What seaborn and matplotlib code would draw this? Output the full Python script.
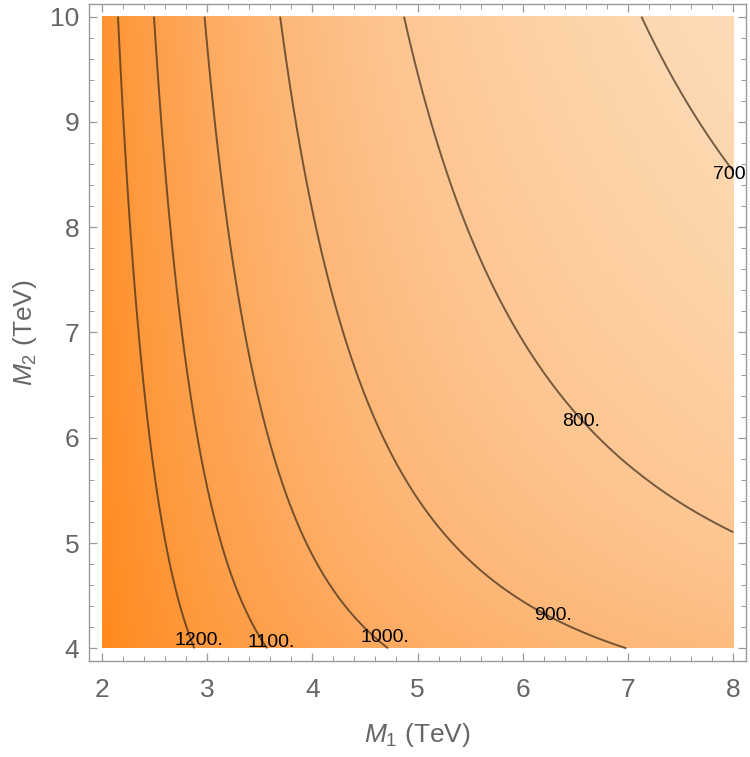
import numpy as np
import matplotlib
matplotlib.use("Agg")
import matplotlib.pyplot as plt
import seaborn as sns

# contour levels and where each line crosses the plot
levels = [700, 800, 900, 1000, 1100, 1200]
level_labels = ["700.", "800.", "900.", "1000.", "1100.", "1200."]

m2_rows = [10, 9, 8, 7, 6, 5.5, 5, 4.5, 4]
m1_1200 = [2.155, 2.203, 2.259, 2.345, 2.449, 2.535, 2.636, 2.74, 2.914]
m1_1100 = [2.503, 2.567, 2.646, 2.772, 2.914, 2.994, 3.105, 3.26, 3.516]
m1_1000 = [2.987, 3.072, 3.19, 3.389, 3.595, 3.72, 3.896, 4.275, 4.78]
m1_900 = [3.70, 3.832, 4.022, 4.338, 4.687, 5.0, 5.335, 5.92, 6.93]
m1_800 = [4.877, 5.13, 5.44, 5.92, 6.744, 7.25, 8.0]
m2_800 = [10, 9, 8, 7, 6, 5.5, 5.12]
m1_700 = [7.13, 7.646, 8.0]
m2_700 = [10, 9, 8.58]

# label positions (M1, M2)
label_m1 = [7.81, 6.557, 6.286, 4.687, 3.614, 2.92]
label_m2 = [8.50, 6.15, 4.314, 4.10, 4.06, 4.07]

# smooth surface through the read crossings (polynomial in 1/M1, 1/M2)
pts = [(m1_700, m2_700, 700), (m1_800, m2_800, 800), (m1_900, m2_rows, 900),
       (m1_1000, m2_rows, 1000), (m1_1100, m2_rows, 1100), (m1_1200, m2_rows, 1200)]
X, Y, Z = [], [], []
for xs, ys, lv in pts:
    X += list(xs); Y += list(ys); Z += [lv] * len(xs)
X = np.array(X); Y = np.array(Y); Z = np.array(Z, float)

powers = [(0, 0), (1, 0), (0, 1), (2, 0), (0, 2), (1, 1), (3, 0), (0, 3), (2, 1), (1, 2)]


def basis(u, v):
    a, b = 1 / u, 1 / v
    return np.stack([a**i * b**j for i, j in powers], axis=-1)


def grad_basis(u, v):
    a, b = 1 / u, 1 / v
    du = np.stack([-i * a**(i + 1) * b**j for i, j in powers], axis=-1)
    dv = np.stack([-j * a**i * b**(j + 1) for i, j in powers], axis=-1)
    return du, dv


B = basis(X, Y)
w = np.ones_like(Z)
for _ in range(8):
    # weight by 1/|grad| so the fit minimises position error, not value error
    coef, *_ = np.linalg.lstsq(B * w[:, None], Z * w, rcond=None)
    du, dv = grad_basis(X, Y)
    w = 1 / np.hypot(du @ coef, dv @ coef)

gx = np.linspace(2, 8, 400)
gy = np.linspace(4, 10, 400)
GX, GY = np.meshgrid(gx, gy)
field = basis(GX, GY) @ coef

sns.set_style("ticks")
plt.rcParams['font.family'] = ['Liberation Sans', 'DejaVu Sans']
plt.rcParams['mathtext.fontset'] = 'custom'
plt.rcParams['mathtext.rm'] = 'Liberation Sans'
plt.rcParams['mathtext.it'] = 'Liberation Sans:italic'

cmap = sns.blend_palette(["#FDDBB6", "#FDBC80", "#FEA352", "#FF9432", "#FF891C"], as_cmap=True)

fig = plt.figure(figsize=(7.5, 7.57), dpi=100)
ax = fig.add_axes([89 / 750, (757 - 661) / 757, 657 / 750, 657 / 757])

ax.imshow(field, extent=[2, 8, 4, 10], origin='lower', cmap=cmap,
          vmin=field.min(), vmax=field.max(), aspect='auto', interpolation='bilinear')
ax.contour(GX, GY, field, levels=levels, colors='#3a2a1a', alpha=0.7, linewidths=1.4)

for lab, lx, ly in zip(level_labels, label_m1, label_m2):
    ha = 'left' if lab == "700." else 'center'
    ax.text(lx, ly, lab, fontsize=14, color='black', ha=ha, va='center', clip_on=True)

ax.set_xlim(1.88, 8.12)
ax.set_ylim(3.88, 10.12)
ax.set_xticks(range(2, 9))
ax.set_yticks(range(4, 11))
ax.set_xticks(np.arange(2, 8.01, 0.2), minor=True)
ax.set_yticks(np.arange(4, 10.01, 0.2), minor=True)

gray = '#9a9a9a'
for s in ax.spines.values():
    s.set_color(gray)
    s.set_linewidth(1.0)
ax.tick_params(which='both', direction='in', top=True, right=True, color=gray)
ax.tick_params(which='major', length=6, width=0.9, labelsize=19, labelcolor='#666666')
ax.tick_params(which='minor', length=3.5, width=0.7)
ax.tick_params(axis='x', pad=12)
ax.tick_params(axis='y', pad=7)

ax.set_xlabel(r'$M_1$ (TeV)', fontsize=19, color='#666666', labelpad=14)
ax.set_ylabel(r'$M_2$ (TeV)', fontsize=19, color='#666666', labelpad=8)

fig.savefig("out.png", dpi=100)
